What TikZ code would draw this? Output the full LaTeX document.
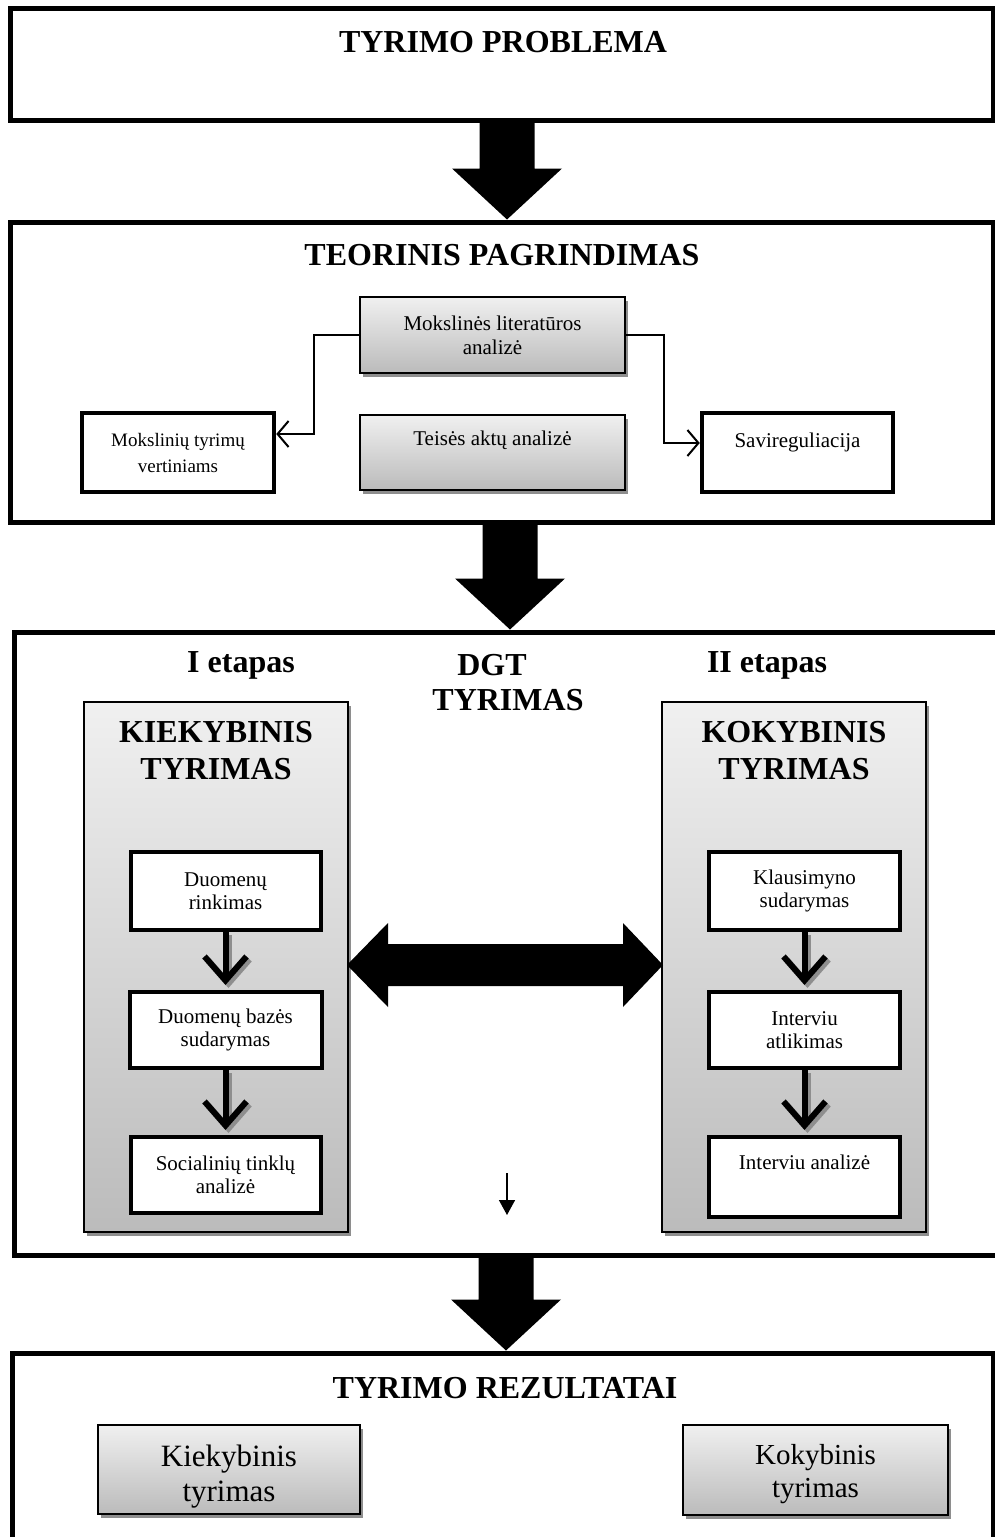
\documentclass[tikz,border=0pt]{standalone}
\usepackage{fontspec}
\setmainfont{Liberation Serif}
\usetikzlibrary{arrows.meta,calc,shadows}
\definecolor{gtop}{HTML}{F0F0F0}
\definecolor{gbot}{HTML}{BBBBBB}
\definecolor{shad}{HTML}{8E8E8E}
\newcommand\bigarr[2]{\fill let \p1=(#1), \p2=(#2) in (\x2-27.5pt,\y1) -- (\x2+27.5pt,\y1) -- (\x2+27.5pt,\y2+51pt) -- (\x2+55pt,\y2+51pt) -- (\x2,\y2) -- (\x2-55pt,\y2+51pt) -- (\x2-27.5pt,\y2+51pt) -- cycle;}
\begin{document}
\begin{tikzpicture}[x=1pt,y=-1pt,
 outerbox/.style={draw, line width=5pt, rectangle, inner sep=0pt},
 graybox/.style={draw, line width=1.2pt, rectangle, inner sep=0pt, align=center, top color=gtop, bottom color=gbot, drop shadow={shadow xshift=3pt, shadow yshift=-4pt, fill=shad, opacity=1}},
 whitebox/.style={draw, line width=4pt, fill=white, rectangle, inner sep=0pt, align=center, font=\fontsize{21}{23}\selectfont, drop shadow={shadow xshift=2pt, shadow yshift=-2pt, fill=gray!55, opacity=1}},
 thickbox/.style={draw, line width=4.5pt, fill=white, rectangle, inner sep=0pt, align=center},
 head/.style={font=\bfseries\fontsize{32}{37}\selectfont, align=center, inner sep=0pt},
 small/.style={font=\fontsize{21}{24}\selectfont, align=center, inner sep=0pt},
 conn/.style={line width=2pt, -{Straight Barb[length=11pt,width=26pt,line width=2pt]}},
 flowarr/.style={line width=6pt, -{Straight Barb[length=24pt,width=42pt,line width=6pt]}},
]
\useasboundingbox (0,0) rectangle (995,1537);
\clip (0,0) rectangle (995,1537);

% ---------- box 1
\node[outerbox, minimum width=983pt, minimum height=112pt] (prob) at (501.5,64) {};
\node[head] (probt) at (503,42) {TYRIMO PROBLEMA};

% ---------- box 2
\node[outerbox, minimum width=983pt, minimum height=300pt] (teor) at (501.5,372) {};
\node[head] (teort) at (502,255) {TEORINIS PAGRINDIMAS};
\node[graybox, small, minimum width=265pt, minimum height=76pt] (mok) at (492.5,335) {Mokslinės literatūros\\analizė};
\node[thickbox, font=\fontsize{19}{26}\selectfont, minimum width=192pt, minimum height=79pt] (mtv) at (178,452.5) {Mokslinių tyrimų\\vertiniams};
\node[graybox, minimum width=265pt, minimum height=75pt] (teis) at (492.5,452.5) {};
\node[small] (teist) at (492.5,440) {Teisės aktų analizė};
\node[thickbox, minimum width=191pt, minimum height=79pt] (sav) at (797.5,452.5) {};
\node[small] (savt) at (797.5,442) {Savireguliacija};
\draw[conn] (mok.west) -- ++(-45,0) |- ($(mtv.east)+(0,-18.5)$);
\draw[conn] (mok.east) -- ++(38,0) |- ($(sav.west)+(0,-9.5)$);

% ---------- box 3
\node[outerbox, minimum width=996pt, minimum height=623pt] (dgt) at (512,943.5) {};
\node[head] (et1) at (241,665) {I etapas};
\node[head] (dgt1) at (492,665) {DGT};
\node[head] (dgt2) at (508,700) {TYRIMAS};
\node[head] (et2) at (767,665) {II etapas};

\node[graybox, minimum width=264pt, minimum height=530pt] (kbox) at (216,967) {};
\node[graybox, minimum width=264pt, minimum height=530pt] (qbox) at (794,967) {};
\node[head] (kt) at (216,751) {KIEKYBINIS\\TYRIMAS};
\node[head] (qt) at (794,751) {KOKYBINIS\\TYRIMAS};

\node[whitebox, minimum width=190pt, minimum height=78pt] (d1) at (225.5,891) {Duomenų\\rinkimas};
\node[whitebox, minimum width=192pt, minimum height=76pt] (d2) at (225.5,1030) {Duomenų bazės\\sudarymas};
\node[whitebox, minimum width=190pt, minimum height=76pt] (d3) at (225.5,1175) {Socialinių tinklų\\analizė};

\node[whitebox, minimum width=191pt, minimum height=78pt] (k1) at (804.5,891) {Klausimyno\\sudarymas};
\node[whitebox, minimum width=191pt, minimum height=76pt] (k2) at (804.5,1030) {Interviu\\atlikimas};
\node[whitebox, minimum width=191pt, minimum height=80pt] (k3) at (804.5,1177) {};
\node[small] (k3t) at (804.5,1162) {Interviu analizė};

\foreach \a/\b in {d1/d2,d2/d3,k1/k2,k2/k3}{
  \draw[flowarr, shad, transform canvas={xshift=3pt,yshift=-3pt}] (\a.south) -- ($(\b.north)+(0,-5)$);
  \draw[flowarr] (\a.south) -- ($(\b.north)+(0,-5)$);
}

% double arrow
\coordinate (dl) at (347,965);
\coordinate (dr) at (663,965);
\fill let \p1=(dl), \p2=(dr) in (\x1,\y1) -- (\x1+41pt,\y1+42pt) -- (\x1+41pt,\y1+21pt) -- (\x2-40pt,\y1+21pt) -- (\x2-40pt,\y1+42pt) -- (\x2,\y2) -- (\x2-40pt,\y2-42pt) -- (\x2-40pt,\y2-21pt) -- (\x1+41pt,\y2-21pt) -- (\x1+41pt,\y2-42pt) -- cycle;

% small arrow
\coordinate (sa1) at (507,1173);
\coordinate (sa2) at (507,1215);
\draw[line width=1.5pt, -{Triangle[length=15pt,width=16pt]}] (sa1) -- (sa2);

% ---------- box 4
\node[outerbox, minimum width=981pt, minimum height=197pt] (rez) at (502.5,1451.5) {};
\node[head] (rezt) at (505,1388) {TYRIMO REZULTATAI};
\node[graybox, minimum width=262pt, minimum height=89pt] (r1) at (229,1469.5) {};
\node[font=\fontsize{31}{35}\selectfont, align=center, inner sep=0pt] (r1t) at (229,1477) {Kiekybinis\\tyrimas};
\node[graybox, minimum width=265pt, minimum height=90pt] (r2) at (815.5,1470) {};
\node[font=\fontsize{29}{33}\selectfont, align=center, inner sep=0pt] (r2t) at (815.5,1474) {Kokybinis\\tyrimas};

% ---------- big arrows
\bigarr{prob.south -| 507,0}{teor.north -| 507,0}
\bigarr{teor.south -| 510,0}{dgt.north -| 510,0}
\bigarr{dgt.south -| 506,0}{rez.north -| 506,0}
\end{tikzpicture}
\end{document}
